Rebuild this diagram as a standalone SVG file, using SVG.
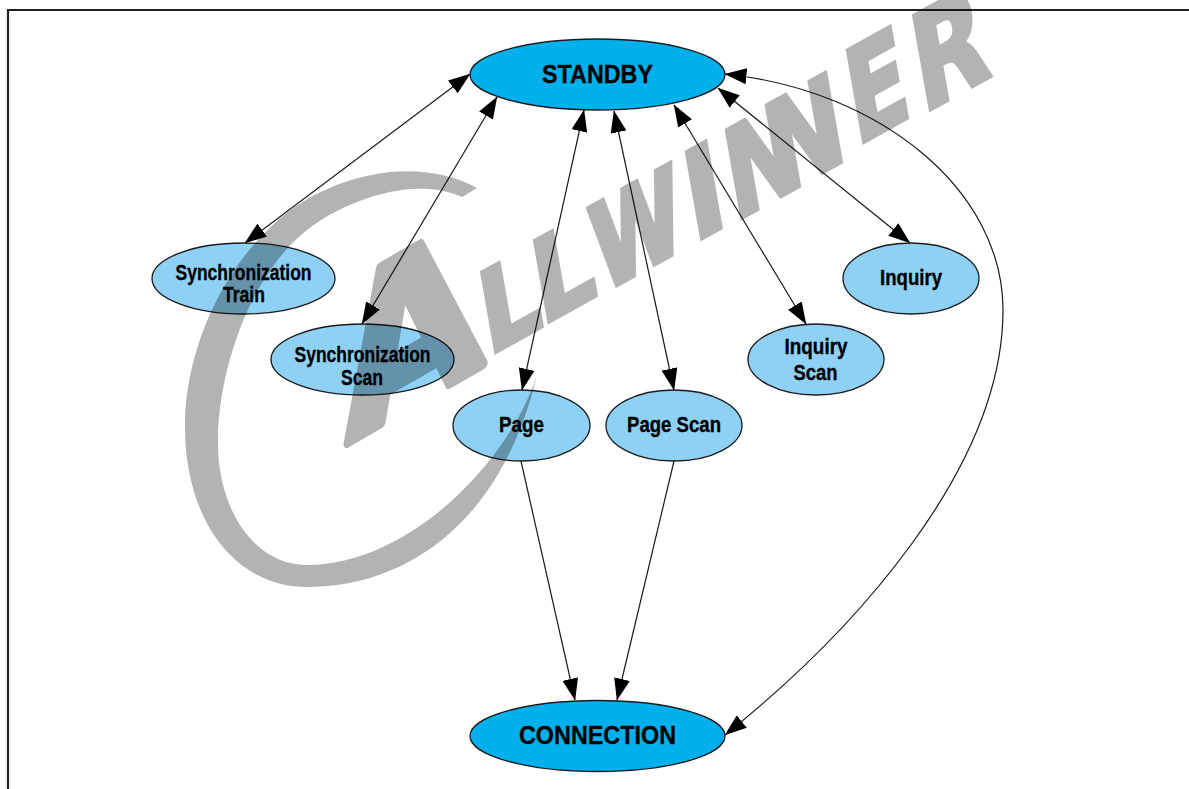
<svg xmlns="http://www.w3.org/2000/svg" width="1189" height="789" viewBox="0 0 1189 789">
<style>
.main{fill:#00b0ec;stroke:#1a1a1a;stroke-width:1.3}
.sub{fill:#8fd1f4;stroke:#1a1a1a;stroke-width:1.3}
text{font-family:"Liberation Sans",Arial,sans-serif;font-weight:bold;fill:#000;text-anchor:middle;stroke:#000;stroke-width:.35}
.s{font-size:21.500px}
.b{font-size:26.500px}
.e{fill:none;stroke:#1a1a1a;stroke-width:1.2;marker-end:url(#ah)}
.d{marker-start:url(#ah)}
#watermark text{font-family:"DejaVu Sans",sans-serif;font-weight:bold;fill:#000;text-anchor:start;stroke:#000;stroke-width:4.500;stroke-linejoin:miter}
</style>
<defs>
<marker id="ah" markerUnits="userSpaceOnUse" viewBox="0 0 22 16" refX="21.5" refY="8" markerWidth="22" markerHeight="16" orient="auto-start-reverse"><path d="M0,0L22,8L0,16Z" fill="#000"/></marker>
</defs>
<rect width="1189" height="789" fill="#fff"/>
<path d="M8,789V10H1189" fill="none" stroke="#222" stroke-width="2.2"/>
<g id="connectors">
<path class="e d" d="M470,74L245,243"/>
<path class="e d" d="M497,97L362,324"/>
<path class="e d" d="M584,110L522,390"/>
<path class="e d" d="M614,111L674,390"/>
<path class="e d" d="M674,105L806,324"/>
<path class="e d" d="M718,88L910,243"/>
<path class="e d" d="M725,74C880,90 1003,190 1003,310C1003,470 850,635 725,735"/>
<path class="e" d="M521,461L575,700"/>
<path class="e" d="M674,461L617,700"/>
</g>
<g id="standby"><ellipse class="main" cx="597.500" cy="74.500" rx="127.500" ry="35.500"/><text class="b" x="597.500" y="83" textLength="111" lengthAdjust="spacingAndGlyphs">STANDBY</text></g>
<g id="connection"><ellipse class="main" cx="597.500" cy="736" rx="127.500" ry="35.500"/><text class="b" x="597.500" y="744" textLength="157" lengthAdjust="spacingAndGlyphs">CONNECTION</text></g>
<g id="sync-train"><ellipse class="sub" cx="243.500" cy="278.500" rx="91.500" ry="35.500"/><text class="s" x="243.500" y="280" textLength="136" lengthAdjust="spacingAndGlyphs">Synchronization</text><text class="s" x="244" y="302" textLength="42" lengthAdjust="spacingAndGlyphs">Train</text></g>
<g id="sync-scan"><ellipse class="sub" cx="362.500" cy="359.500" rx="91.500" ry="35.500"/><text class="s" x="362.500" y="362" textLength="136" lengthAdjust="spacingAndGlyphs">Synchronization</text><text class="s" x="362" y="385" textLength="42" lengthAdjust="spacingAndGlyphs">Scan</text></g>
<g id="page"><ellipse class="sub" cx="521.500" cy="425.500" rx="68.500" ry="35.500"/><text class="s" x="521.500" y="432" textLength="45" lengthAdjust="spacingAndGlyphs">Page</text></g>
<g id="page-scan"><ellipse class="sub" cx="674" cy="425.500" rx="68" ry="35.500"/><text class="s" x="674" y="432" textLength="94" lengthAdjust="spacingAndGlyphs">Page Scan</text></g>
<g id="inquiry-scan"><ellipse class="sub" cx="816" cy="359.500" rx="68" ry="35.500"/><text class="s" x="816" y="354" textLength="63" lengthAdjust="spacingAndGlyphs">Inquiry</text><text class="s" x="815.500" y="380" textLength="44" lengthAdjust="spacingAndGlyphs">Scan</text></g>
<g id="inquiry"><ellipse class="sub" cx="911" cy="278.500" rx="68" ry="35.500"/><text class="s" x="911" y="285" textLength="62" lengthAdjust="spacingAndGlyphs">Inquiry</text></g>
<g id="watermark" opacity="0.3">
<path d="M477,188C440,168 385,163 325,190C245,225 185,330 185,427C185,520 235,587 307,587C400,587 500,530 537,375C510,460 410,565 307,565C255,565 218,510 218,443C218,370 250,275 307,230C345,200 415,175 462,197Z" fill="#000"/>
<text transform="translate(347,443) rotate(-30) skewX(-24) scale(1.1,1)" font-size="186" style="stroke-width:9;stroke-linejoin:round">A</text>
<text transform="translate(488,356) rotate(-29) skewX(-19) scale(.97,1)" font-size="104">L</text>
<text transform="translate(541,326) rotate(-29) skewX(-19) scale(.97,1)" font-size="106">L</text>
<text transform="translate(601,293) rotate(-29) skewX(-19) scale(.82,1)" font-size="109" style="stroke-width:6">W</text>
<text transform="translate(693,243) rotate(-29) skewX(-19)" font-size="113">I</text>
<text transform="translate(734,222) rotate(-29) skewX(-19) scale(.87,1)" font-size="115">N</text>
<text transform="translate(774,199) rotate(-29) skewX(-19) scale(.88,1)" font-size="117">N</text>
<text transform="translate(856,146) rotate(-29) skewX(-19) scale(.8,1)" font-size="120">E</text>
<text transform="translate(922,114) rotate(-29) skewX(-19) scale(.85,1)" font-size="123">R</text>
</g>
</svg>
